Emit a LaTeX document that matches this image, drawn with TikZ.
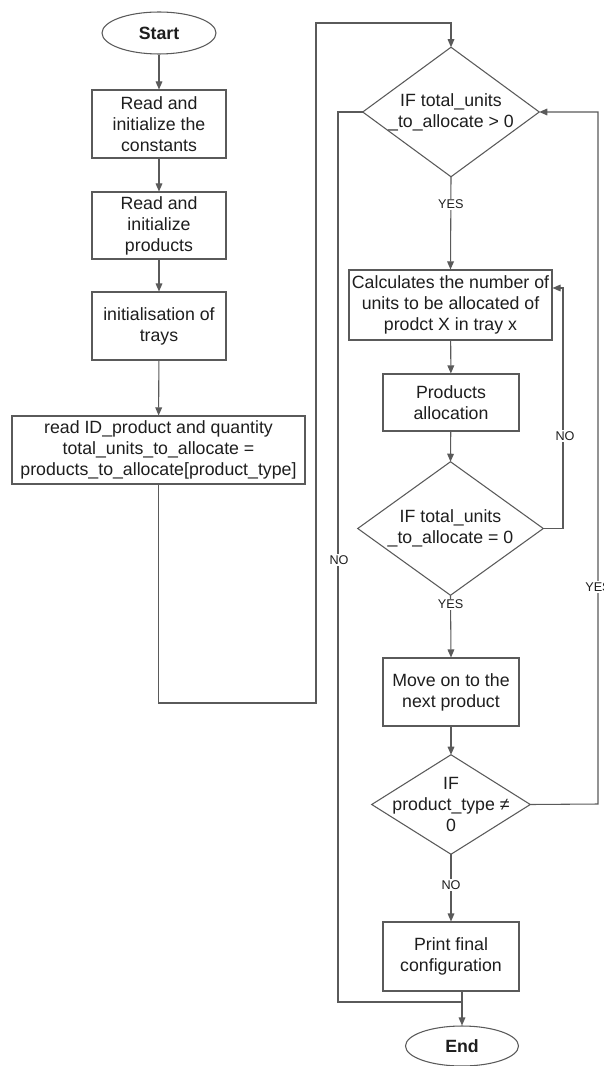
\documentclass[tikz,border=0pt]{standalone}
\usepackage{fontspec}
\setmainfont{Liberation Sans}
\usetikzlibrary{shapes.geometric,arrows.meta}
\definecolor{edge}{HTML}{5A5A5A}
\definecolor{ink}{HTML}{1E1E1E}
\begin{document}
\begin{tikzpicture}[x=0.75pt,y=-0.75pt,
  every node/.style={text=ink, font=\fontsize{13.3}{15.75}\selectfont},
  terminal/.style={ellipse, draw=edge, line width=0.8pt, fill=white, inner sep=0pt,
                   font=\fontsize{13.3}{15.75}\selectfont\bfseries},
  procbox/.style={rectangle, draw=edge, line width=0.8pt, fill=white, align=center, inner sep=0pt},
  decision/.style={rectangle, align=center, inner sep=0pt},
  flow/.style={draw=edge, line width=0.8pt},
  arr/.style={flow, -{Triangle[length=6pt,width=5pt]}},
  lbl/.style={fill=white, inner sep=1pt, font=\fontsize{9.5}{11}\selectfont, text=ink}]
\clip (0,0) rectangle (603,1066);
\fill[white] (0,0) rectangle (603,1066);

% left column
\node[terminal, minimum width=85.5pt, minimum height=31.5pt] (start) at (159,33) {Start};
\node[procbox, minimum width=100.5pt, minimum height=51pt] (b1) at (159,124) {Read and\\initialize the\\constants};
\node[procbox, minimum width=100.5pt, minimum height=50.25pt] (b2) at (159,225.5) {Read and\\initialize\\products};
\node[procbox, minimum width=100.5pt, minimum height=51pt] (b3) at (159,326) {initialisation of\\trays};
\node[procbox, minimum width=219.75pt, minimum height=51pt] (b4) at (158.5,450) {read ID\_product and quantity\\total\_units\_to\_allocate =\\products\_to\_allocate[product\_type]};

% right column
\node[decision, minimum width=132pt, minimum height=96.75pt] (d1) at (451,112) {IF total\_units\\\_to\_allocate > 0};
\draw[flow] (d1.north) -- (d1.east) -- (d1.south) -- (d1.west) -- cycle;
\node[procbox, minimum width=152.25pt, minimum height=52.5pt] (b5) at (450.5,305) {Calculates the number of\\units to be allocated of\\prodct X in tray x};
\node[procbox, minimum width=102pt, minimum height=42.75pt] (b6) at (451,402.5) {Products\\allocation};
\node[decision, minimum width=138.75pt, minimum height=99.75pt] (d2) at (450.5,528.5) {IF total\_units\\\_to\_allocate = 0};
\draw[flow] (d2.north) -- (d2.east) -- (d2.south) -- (d2.west) -- cycle;
\node[procbox, minimum width=102pt, minimum height=51pt] (b7) at (451,692) {Move on to the\\next product};
\node[decision, minimum width=118.5pt, minimum height=74.25pt] (d3) at (451,804.5) {IF\\product\_type ≠\\0};
\draw[flow] (d3.north) -- (d3.east) -- (d3.south) -- (d3.west) -- cycle;
\node[procbox, minimum width=102pt, minimum height=51.75pt] (b8) at (451,956.5) {Print final\\configuration};
\node[terminal, minimum width=84.75pt, minimum height=30pt] (endn) at (462,1046) {End};

% bend points of the long connectors
\coordinate (r1) at (316,703);
\coordinate (r2) at (316,23);
\coordinate (noL) at (338,1002);
\coordinate (merge) at (462,1002);
\coordinate (n1) at (563,288);
\coordinate (y1) at (598,804);

% straight flow
\draw[arr] (start) -- (b1);
\draw[arr] (b1) -- (b2);
\draw[arr] (b2) -- (b3);
\draw[arr] (b3) -- (b4);
\draw[arr] (b4.south) |- (r1) -- (r2) -| (d1.north);
\draw[arr] (d1.south) -- node[lbl, pos=0.3] {YES} (b5.north);
\draw[arr] (b5) -- (b6);
\draw[arr] (b6) -- (d2.north);
\draw[arr] (d2.south) -- node[lbl, pos=0.15] {YES} (b7.north);
\draw[arr] (b7) -- (d3.north);
\draw[arr] (d3.south) -- node[lbl, pos=0.46] {NO} (b8.north);
\draw[arr] (b8.south -| endn.north) -- (endn.north);

% loops
\draw[arr] (d2.east) -| (n1) -- (n1 -| b5.east);
\node[lbl] at (565,436) {NO};
\draw[arr] (d3.east) -- (y1) |- (d1.east);
\node[lbl] at (598,587) {YES};
\draw[flow] (d1.west) -| (noL) -- (merge);
\node[lbl] at (339,560) {NO};
\end{tikzpicture}
\end{document}
